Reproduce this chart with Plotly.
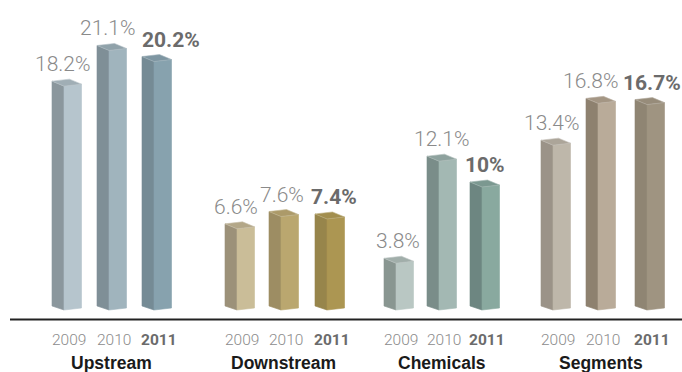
import plotly.graph_objects as go

# ---- data ----
groups = ["Upstream", "Downstream", "Chemicals", "Segments"]
years = ["2009", "2010", "2011"]
upstream = [18.2, 21.1, 20.2]
downstream = [6.6, 7.6, 7.4]
chemicals = [3.8, 12.1, 10.0]
segments = [13.4, 16.8, 16.7]
value_labels = [
    ["18.2%", "21.1%", "20.2%"],
    ["6.6%", "7.6%", "7.4%"],
    ["3.8%", "12.1%", "10%"],
    ["13.4%", "16.8%", "16.7%"],
]
series = [upstream, downstream, chemicals, segments]

# ---- layout / style ----
W, H = 682, 372
K = 12.3            # pixels per percentage point
BASE_PX = 310       # pixel row of zero
bar_left = [[64, 109, 154], [237, 281, 327], [396, 439, 482], [553, 598, 647]]
label_dx = [[-4, -4, 14], [-4, -1.5, 4], [-1, 0.5, 0], [-3.5, -9.5, 2]]
BW = 17.5   # front face width (px)
DX = 12     # side depth (px)

front_colors = [
    ["#b6c5cd", "#a0b4bd", "#87a2ae"],
    ["#cabd98", "#baa76f", "#ac9652"],
    ["#b9c7c3", "#a3b8b3", "#89a99f"],
    ["#beb7aa", "#b9ab99", "#9f9481"],
]
side_colors = [
    ["#8b979d", "#7f8f97", "#758b95"],
    ["#9c9179", "#9d8d63", "#97854b"],
    ["#899691", "#7a8d89", "#6d8681"],
    ["#9b9388", "#8e816f", "#8f8573"],
]


def mix(c1, c2, t):
    a = [int(c1[i:i + 2], 16) for i in (1, 3, 5)]
    b = [int(c2[i:i + 2], 16) for i in (1, 3, 5)]
    return "#" + "".join(f"{round(a[j] + (b[j] - a[j]) * t):02x}" for j in range(3))


def px(p):
    return p / K


fig = go.Figure()
annotations = []

for g, vals in enumerate(series):
    for i, v in enumerate(vals):
        xf = bar_left[g][i]
        fc = front_colors[g][i]
        sc = side_colors[g][i]
        tc = mix(sc, fc, 0.5)
        # side face
        fig.add_trace(go.Scatter(
            x=[xf, xf, xf - DX, xf - DX, xf],
            y=[0, v, v + px(5), px(4), 0],
            fill="toself", fillcolor=sc, mode="lines",
            line=dict(width=0.6, color=sc), hoverinfo="skip", showlegend=False))
        # front face
        fig.add_trace(go.Scatter(
            x=[xf, xf + BW, xf + BW, xf, xf],
            y=[0, px(2), v + px(2), v, 0],
            fill="toself", fillcolor=fc, mode="lines",
            line=dict(width=0.6, color=fc), hoverinfo="skip", showlegend=False))
        # top face
        fig.add_trace(go.Scatter(
            x=[xf, xf + BW, xf + BW - DX, xf - DX, xf],
            y=[v, v + px(2), v + px(7), v + px(5), v],
            fill="toself", fillcolor=tc, mode="lines",
            line=dict(width=0.6, color=mix(tc, "#ffffff", 0.3)),
            hoverinfo="skip", showlegend=False))

        bold = (i == 2)
        cx = xf + BW / 2 - DX / 2
        annotations.append(dict(
            x=cx + label_dx[g][i], y=v + px(7), yshift=1,
            text=value_labels[g][i], showarrow=False,
            xanchor="center", yanchor="bottom",
            font=dict(family="Roboto, Liberation Sans, sans-serif",
                      size=21 if bold else 21,
                      weight=700 if bold else 300,
                      color="#6b6b6b" if bold else "#8a8a8a")))
        annotations.append(dict(
            x=cx + 2, y=px(BASE_PX - 340),
            text=years[i], showarrow=False,
            xanchor="center", yanchor="middle",
            font=dict(family="Roboto, Liberation Sans, sans-serif",
                      size=15.5,
                      weight=700 if bold else 300,
                      color="#6b6b6b" if bold else "#8c8c8c")))
    mid = bar_left[g][1] + BW / 2 - DX / 2
    annotations.append(dict(
        x=mid, y=px(BASE_PX - 363),
        text=groups[g], showarrow=False,
        xanchor="center", yanchor="middle",
        font=dict(family="Liberation Sans, Arial, sans-serif",
                  size=17.5, weight=700, color="#1a1a1a")))

fig.add_shape(type="line", x0=10, x1=W, y0=px(BASE_PX - 319.5), y1=px(BASE_PX - 319.5),
              line=dict(color="#222222", width=2))

fig.update_layout(
    width=W, height=H,
    margin=dict(l=0, r=0, t=0, b=0),
    paper_bgcolor="white", plot_bgcolor="white",
    xaxis=dict(range=[0, W], visible=False, fixedrange=True),
    yaxis=dict(range=[px(BASE_PX - H), px(BASE_PX)], visible=False, fixedrange=True),
    annotations=annotations,
    showlegend=False,
)

fig.write_html("out.html")
